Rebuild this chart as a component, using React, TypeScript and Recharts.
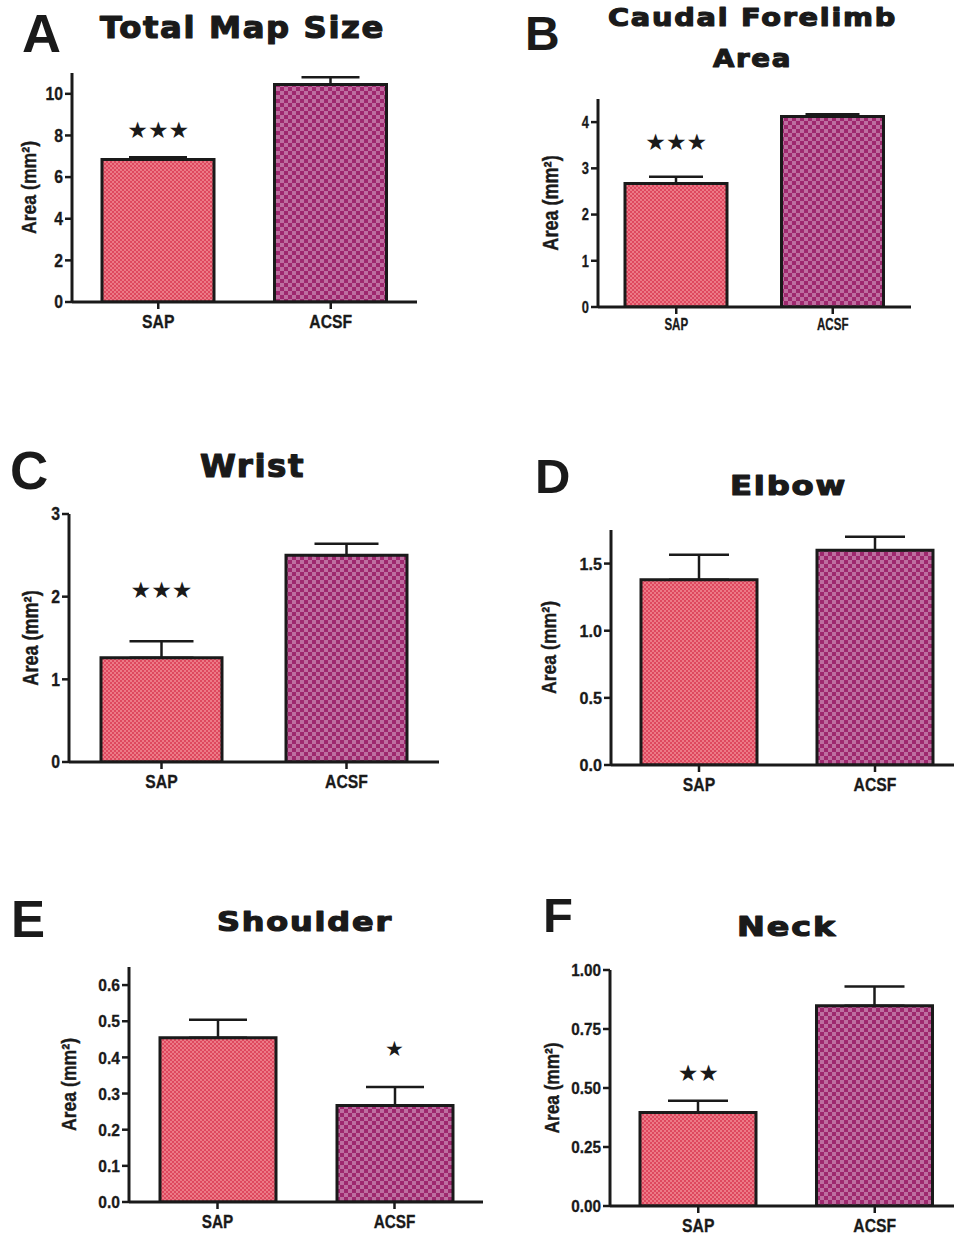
import React from 'react';
import { BarChart, Bar, XAxis, YAxis, ErrorBar, Cell, ReferenceDot } from 'recharts';

// ---------- data ----------
const categories = ['SAP', 'ACSF'];

const totalMapMeans = [6.85, 10.45];
const totalMapSems = [0.1, 0.35];
const totalMapTicks = [0, 2, 4, 6, 8, 10];
const totalMapStars = ['★★★', ''];
const totalMapStarY = [8.27, 0];

const caudalMeans = [2.67, 4.12];
const caudalSems = [0.15, 0.05];
const caudalTicks = [0, 1, 2, 3, 4];
const caudalStars = ['★★★', ''];
const caudalStarY = [3.58, 0];

const wristMeans = [1.26, 2.5];
const wristSems = [0.2, 0.14];
const wristTicks = [0, 1, 2, 3];
const wristStars = ['★★★', ''];
const wristStarY = [2.08, 0];

const elbowMeans = [1.38, 1.6];
const elbowSems = [0.185, 0.1];
const elbowTicks = [0, 0.5, 1.0, 1.5];
const elbowStars = ['', ''];
const elbowStarY = [0, 0];

const shoulderMeans = [0.454, 0.267];
const shoulderSems = [0.05, 0.051];
const shoulderTicks = [0, 0.1, 0.2, 0.3, 0.4, 0.5, 0.6];
const shoulderStars = ['', '★'];
const shoulderStarY = [0, 0.423];

const neckMeans = [0.396, 0.848];
const neckSems = [0.05, 0.082];
const neckTicks = [0, 0.25, 0.5, 0.75, 1.0];
const neckStars = ['★★', ''];
const neckStarY = [0.562, 0];

const yLabel = 'Area (mm²)';

// ---------- styles ----------
const INK = '#1a1a1a';
const SANS = "'Liberation Sans', Arial, 'DejaVu Sans', sans-serif";
const HEAVY = "'DejaVu Sans', 'Liberation Sans', sans-serif";

const SAP_DARK = '#de485f';
const SAP_LIGHT = '#ec7a87';
const ACSF_DARK = '#9e286e';
const ACSF_LIGHT = '#be6ea0';

type PanelCfg = {
  id: string;
  chartLeft: number;
  axisX: number;
  top: number;
  bottom: number;
  right: number;
  domain: [number, number];
  ticks: number[];
  decimals: number;
  means: number[];
  sems: number[];
  stars: string[];
  starY: number[];
  barSize: number;
  cap: number;
  tickFont: number;
  tickSqueeze: number;
  xFont: number;
  xSqueeze: number;
  labelFont: number;
  labelX: number;
  starFont: number;
  xMargin: number;
};

const panels: PanelCfg[] = [
  { id: 'a', chartLeft: 0, axisX: 72, top: 73, bottom: 302, right: 417, domain: [0, 11], ticks: totalMapTicks, decimals: 0,
    means: totalMapMeans, sems: totalMapSems, stars: totalMapStars, starY: totalMapStarY, barSize: 112, cap: 29,
    tickFont: 17.5, tickSqueeze: 0.9, xFont: 18.5, xSqueeze: 0.85, labelFont: 21, labelX: 28, starFont: 23, xMargin: 6 },
  { id: 'b', chartLeft: 500, axisX: 598, top: 99, bottom: 307, right: 911, domain: [0, 4.5], ticks: caudalTicks, decimals: 0,
    means: caudalMeans, sems: caudalSems, stars: caudalStars, starY: caudalStarY, barSize: 102, cap: 27,
    tickFont: 16.5, tickSqueeze: 0.78, xFont: 16.5, xSqueeze: 0.7, labelFont: 21.5, labelX: 550, starFont: 23, xMargin: 4 },
  { id: 'c', chartLeft: 0, axisX: 69, top: 514, bottom: 762, right: 439, domain: [0, 3], ticks: wristTicks, decimals: 0,
    means: wristMeans, sems: wristSems, stars: wristStars, starY: wristStarY, barSize: 121, cap: 32,
    tickFont: 17.5, tickSqueeze: 0.9, xFont: 18.5, xSqueeze: 0.85, labelFont: 21.5, labelX: 30, starFont: 23, xMargin: 6 },
  { id: 'd', chartLeft: 500, axisX: 611, top: 530, bottom: 765, right: 963, domain: [0, 1.75], ticks: elbowTicks, decimals: 1,
    means: elbowMeans, sems: elbowSems, stars: elbowStars, starY: elbowStarY, barSize: 116, cap: 30,
    tickFont: 17, tickSqueeze: 0.95, xFont: 18.5, xSqueeze: 0.85, labelFont: 21, labelX: 548, starFont: 23, xMargin: 6 },
  { id: 'e', chartLeft: 0, axisX: 129, top: 967, bottom: 1202, right: 483, domain: [0, 0.65], ticks: shoulderTicks, decimals: 1,
    means: shoulderMeans, sems: shoulderSems, stars: shoulderStars, starY: shoulderStarY, barSize: 116, cap: 29,
    tickFont: 17, tickSqueeze: 0.92, xFont: 18, xSqueeze: 0.85, labelFont: 21, labelX: 68, starFont: 21, xMargin: 6 },
  { id: 'f', chartLeft: 500, axisX: 610, top: 970, bottom: 1206, right: 963, domain: [0, 1], ticks: neckTicks, decimals: 2,
    means: neckMeans, sems: neckSems, stars: neckStars, starY: neckStarY, barSize: 116, cap: 30,
    tickFont: 17, tickSqueeze: 0.9, xFont: 18.5, xSqueeze: 0.85, labelFont: 20.5, labelX: 552, starFont: 23, xMargin: 6 },
];

type TitleCfg = { text: string; x: number; y: number; w: number; size: number };
const titles: TitleCfg[] = [
  { text: 'Total Map Size', x: 100, y: 37.5, w: 285, size: 30 },
  { text: 'Caudal Forelimb', x: 608, y: 26, w: 289, size: 25 },
  { text: 'Area', x: 713, y: 66.5, w: 79, size: 25.5 },
  { text: 'Wrist', x: 200, y: 477, w: 105, size: 32 },
  { text: 'Elbow', x: 730, y: 494.5, w: 117, size: 27 },
  { text: 'Shoulder', x: 217, y: 930.5, w: 176, size: 26 },
  { text: 'Neck', x: 737, y: 935.5, w: 100, size: 26.5 },
];

type LetterCfg = { text: string; x: number; y: number; size: number };
const letters: LetterCfg[] = [
  { text: 'A', x: 22, y: 51.7, size: 54 },
  { text: 'B', x: 525, y: 50, size: 48 },
  { text: 'C', x: 10, y: 489, size: 53 },
  { text: 'D', x: 535, y: 493, size: 49 },
  { text: 'E', x: 11, y: 936.5, size: 51 },
  { text: 'F', x: 543, y: 931.5, size: 49 },
];

function Panel({ cfg }: { cfg: PanelCfg }) {
  const marginTop = 10;
  const xAxisH = 40;
  const plotH = cfg.bottom - cfg.top;
  const yW = cfg.axisX - cfg.chartLeft;
  const width = cfg.right - cfg.chartLeft + 2;
  const height = marginTop + plotH + xAxisH;
  const data = categories.map((name, i) => ({ name, mean: cfg.means[i], err: [0, cfg.sems[i]] }));
  const labelCx = cfg.labelX - cfg.chartLeft;
  const labelCy = marginTop + plotH / 2;

  const axisLabel = () => (
    <g transform={`translate(${labelCx},${labelCy}) rotate(-90) scale(0.84,1)`}>
      <text
        x={0}
        y={0}
        textAnchor="middle"
        dy="0.36em"
        fill={INK}
        stroke={INK}
        strokeWidth={0.4}
        style={{ fontFamily: SANS, fontWeight: 700, fontSize: cfg.labelFont }}
      >
        {yLabel}
      </text>
    </g>
  );

  const yTick = (p: any) => (
    <g transform={`translate(${p.x},${p.y}) scale(${cfg.tickSqueeze},1)`}>
      <text x={0} y={0} dy="0.36em" textAnchor="end" fill={INK} stroke={INK} strokeWidth={0.3}
        style={{ fontFamily: SANS, fontWeight: 700, fontSize: cfg.tickFont }}>
        {Number(p.payload.value).toFixed(cfg.decimals)}
      </text>
    </g>
  );

  const xTick = (p: any) => (
    <g transform={`translate(${p.x},${p.y}) scale(${cfg.xSqueeze},1)`}>
      <text x={0} y={0} dy="0.72em" textAnchor="middle" fill={INK} stroke={INK} strokeWidth={0.3}
        style={{ fontFamily: SANS, fontWeight: 700, fontSize: cfg.xFont }}>
        {p.payload.value}
      </text>
    </g>
  );

  return (
    <div style={{ position: 'absolute', left: cfg.chartLeft, top: cfg.top - marginTop }}>
      <BarChart width={width} height={height} data={data} margin={{ top: marginTop, right: 2, bottom: 0, left: 0 }}>
        <defs>
          <pattern id={`sap-${cfg.id}`} patternUnits="userSpaceOnUse" width={4} height={4}>
            <rect x={0} y={0} width={4} height={4} fill={SAP_LIGHT} />
            <rect x={0} y={0} width={2} height={2} fill={SAP_DARK} />
            <rect x={2} y={2} width={2} height={2} fill={SAP_DARK} />
          </pattern>
          <pattern id={`acsf-${cfg.id}`} patternUnits="userSpaceOnUse" width={8} height={8}>
            <rect x={0} y={0} width={8} height={8} fill={ACSF_LIGHT} />
            <rect x={0} y={0} width={4} height={4} fill={ACSF_DARK} />
            <rect x={4} y={4} width={4} height={4} fill={ACSF_DARK} />
          </pattern>
        </defs>
        <XAxis
          dataKey="name"
          height={xAxisH}
          interval={0}
          tickSize={7}
          tickMargin={cfg.xMargin}
          axisLine={{ stroke: INK, strokeWidth: 3 }}
          tickLine={{ stroke: INK, strokeWidth: 2.5 }}
          tick={xTick}
        />
        <YAxis
          width={yW}
          type="number"
          domain={cfg.domain}
          ticks={cfg.ticks}
          interval={0}
          allowDataOverflow
          tickSize={7}
          tickMargin={2}
          axisLine={{ stroke: INK, strokeWidth: 3 }}
          tickLine={{ stroke: INK, strokeWidth: 2.5 }}
          tick={yTick}
          label={{ content: axisLabel }}
        />
        <Bar dataKey="mean" barSize={cfg.barSize} stroke={INK} strokeWidth={3} isAnimationActive={false}>
          <Cell fill={`url(#sap-${cfg.id})`} />
          <Cell fill={`url(#acsf-${cfg.id})`} />
          <ErrorBar dataKey="err" width={cfg.cap} strokeWidth={2.5} stroke={INK} direction="y" isAnimationActive={false} />
        </Bar>
        {cfg.stars.map((s, i) =>
          s ? (
            <ReferenceDot
              key={i}
              x={categories[i]}
              y={cfg.starY[i]}
              r={0}
              ifOverflow="visible"
              shape={(p: any) => (
                <text
                  x={p.cx}
                  y={p.cy}
                  textAnchor="middle"
                  dominantBaseline="central"
                  fill={INK}
                  style={{ fontFamily: "'DejaVu Sans', sans-serif", fontSize: cfg.starFont }}
                >
                  {s}
                </text>
              )}
            />
          ) : null
        )}
      </BarChart>
    </div>
  );
}

export default function App() {
  return (
    <div style={{ position: 'absolute', left: 0, top: 0, width: 954, height: 1236, overflow: 'hidden', background: '#fff' }}>
      {panels.map((p) => (
        <Panel key={p.id} cfg={p} />
      ))}
      <svg width={954} height={1236} style={{ position: 'absolute', left: 0, top: 0, pointerEvents: 'none' }}>
        {titles.map((t) => (
          <text
            key={t.text}
            x={t.x}
            y={t.y}
            textLength={t.w}
            lengthAdjust="spacingAndGlyphs"
            fill={INK}
            stroke={INK}
            strokeWidth={1.2}
            strokeLinejoin="round"
            style={{ fontFamily: HEAVY, fontWeight: 700, fontSize: t.size, letterSpacing: 1.5 }}
          >
            {t.text}
          </text>
        ))}
        {letters.map((l) => (
          <text key={l.text} x={l.x} y={l.y} fill={INK} style={{ fontFamily: SANS, fontWeight: 700, fontSize: l.size }}>
            {l.text}
          </text>
        ))}
      </svg>
    </div>
  );
}
